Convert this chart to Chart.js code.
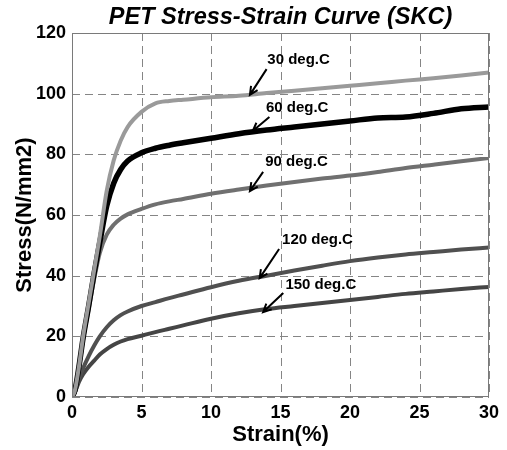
<!DOCTYPE html>
<html>
<head>
<meta charset="utf-8">
<script src="https://cdn.jsdelivr.net/npm/chart.js@4"></script>
<style>
  html, body { margin: 0; padding: 0; background: #fff; }
  #wrap { width: 507px; height: 450px; }
</style>
</head>
<body>
<div id="wrap"><canvas id="stressChart" width="507" height="450"></canvas></div>
<script>
// strain samples (%) shared by every curve
const strain = [0, 0.2, 0.5, 0.8, 1.2, 1.6, 2, 2.5, 3, 3.5, 4, 5, 6, 7, 8, 10, 12, 14, 16, 18, 20, 22, 24, 26, 28, 30];

// stress (N/mm2)
const stress30 = [0, 2, 10, 20, 31, 42, 53, 68, 78, 84.5, 89, 94, 96.8, 97.6, 98, 98.8, 99.3, 100.2, 101, 101.8, 102.6, 103.4, 104.3, 105.1, 106, 107];
const stress60 = [0, 2, 10, 19.5, 30, 41, 51, 63, 70.5, 75, 77.8, 80.5, 82, 83, 83.8, 85.3, 86.8, 88, 89, 90, 91, 92, 92.3, 93.5, 95, 95.6];
const stress90 = [0, 2, 9.5, 19, 29, 39, 47.5, 53.5, 56.8, 58.8, 60.2, 62, 63.5, 64.5, 65.3, 67, 68.4, 69.7, 70.9, 72, 73, 74.2, 75.5, 76.6, 77.7, 78.8];
const stress120 = [0, 1.5, 6, 9.5, 13.5, 17, 20, 23, 25.3, 27, 28.2, 30, 31.3, 32.6, 33.8, 36.2, 38.3, 40, 41.7, 43.3, 44.8, 46, 47, 47.8, 48.6, 49.3];
const stress150 = [0, 1.5, 5, 7.5, 10, 12, 14, 15.8, 17.2, 18.3, 19.1, 20.2, 21.4, 22.5, 23.6, 25.8, 27.6, 29, 30, 31, 32, 33, 34, 34.8, 35.6, 36.3];

const curveLabels = ["30 deg.C", "60 deg.C", "90 deg.C", "120 deg.C", "150 deg.C"];
const xTicks = [0, 5, 10, 15, 20, 25, 30];
const yTicks = [0, 20, 40, 60, 80, 100, 120];

// annotation anchors in data units: text centre, arrow tail, arrow head
const noteText = [[16.3, 111.1], [16.2, 95.3], [16.15, 77.5], [17.66, 51.8], [17.9, 36.9]];
const noteTail = [[14.0, 108.1], [14.2, 92.3], [13.75, 74.2], [14.9, 48.8], [15.2, 34.3]];
const noteHead = [[12.8, 99.6], [13.0, 87.7], [12.8, 67.9], [13.5, 39.2], [13.75, 28.0]];

const series = [stress30, stress60, stress90, stress120, stress150];
const colors = ["#9a9a9a", "#000000", "#707070", "#505050", "#454545"];
const widths = [4, 5.5, 4, 4, 4];

function toPoints(ys) {
  return strain.map((s, i) => ({ x: s, y: ys[i] }));
}

// dashed grid like the original, drawn under the curves
const gridPlugin = {
  id: "dashGrid",
  beforeDatasetsDraw(chart) {
    const { ctx, chartArea, scales } = chart;
    ctx.save();
    ctx.strokeStyle = "#858585";
    ctx.lineWidth = 1;
    ctx.setLineDash([8, 5]);
    xTicks.forEach((v) => {
      const px = Math.round(scales.x.getPixelForValue(v)) + 0.5;
      ctx.beginPath();
      ctx.moveTo(px, chartArea.top);
      ctx.lineTo(px, chartArea.bottom);
      ctx.stroke();
    });
    yTicks.forEach((v) => {
      const py = Math.round(scales.y.getPixelForValue(v)) + 0.5;
      ctx.beginPath();
      ctx.moveTo(chartArea.left, py);
      ctx.lineTo(chartArea.right, py);
      ctx.stroke();
    });
    ctx.restore();
  },
};

const notesPlugin = {
  id: "notes",
  afterDatasetsDraw(chart) {
    const { ctx, chartArea, scales } = chart;
    const x = scales.x, y = scales.y;

    // plot box
    ctx.save();
    ctx.strokeStyle = "#7a7a7a";
    ctx.lineWidth = 1;
    ctx.strokeRect(chartArea.left + 0.5, chartArea.top + 0.5,
      chartArea.right - chartArea.left - 1, chartArea.bottom - chartArea.top - 1);

    // labels and arrows
    ctx.fillStyle = "#000";
    ctx.strokeStyle = "#000";
    ctx.font = "bold 15px 'Liberation Sans', Arial, sans-serif";
    ctx.textAlign = "center";
    ctx.textBaseline = "middle";
    curveLabels.forEach((txt, i) => {
      ctx.fillText(txt, x.getPixelForValue(noteText[i][0]), y.getPixelForValue(noteText[i][1]));

      const x1 = x.getPixelForValue(noteTail[i][0]), y1 = y.getPixelForValue(noteTail[i][1]);
      const x2 = x.getPixelForValue(noteHead[i][0]), y2 = y.getPixelForValue(noteHead[i][1]);
      const ang = Math.atan2(y2 - y1, x2 - x1);
      ctx.lineWidth = 2;
      ctx.beginPath();
      ctx.moveTo(x1, y1);
      ctx.lineTo(x2, y2);
      ctx.moveTo(x2 - 9 * Math.cos(ang - 0.45), y2 - 9 * Math.sin(ang - 0.45));
      ctx.lineTo(x2, y2);
      ctx.lineTo(x2 - 9 * Math.cos(ang + 0.45), y2 - 9 * Math.sin(ang + 0.45));
      ctx.stroke();
    });
    ctx.restore();
  },
};

const ctx = document.getElementById("stressChart").getContext("2d");
let stressChart = new Chart(ctx, {
  type: "line",
  data: {
    datasets: series.map((ys, i) => ({
      label: curveLabels[i],
      data: toPoints(ys),
      borderColor: colors[i],
      borderWidth: widths[i],
      pointRadius: 0,
      fill: false,
      cubicInterpolationMode: "monotone",
    })),
  },
  options: {
    responsive: false,
    animation: false,
    layout: { padding: { left: 0, right: 18, top: 0, bottom: 0 } },
    plugins: {
      legend: { display: false },
      tooltip: { enabled: false },
      title: {
        display: true,
        fullSize: false,
        text: "PET Stress-Strain Curve (SKC)",
        color: "#000",
        font: { family: "'Liberation Sans', Arial, sans-serif", size: 23.5, weight: "bold", style: "italic" },
        padding: { top: 3.5, bottom: 1.3 },
      },
    },
    scales: {
      x: {
        type: "linear",
        min: 0,
        max: 30,
        afterBuildTicks: (scale) => { scale.ticks = xTicks.map((v) => ({ value: v })); },
        afterFit: (scale) => { scale.height = 53; },
        ticks: {
          color: "#000",
          padding: 5,
          maxRotation: 0,
          font: { family: "'Liberation Sans', Arial, sans-serif", size: 18, weight: "bold" },
        },
        grid: { display: false, drawTicks: false },
        border: { display: false },
        title: {
          display: true,
          text: "Strain(%)",
          color: "#000",
          font: { family: "'Liberation Sans', Arial, sans-serif", size: 22, weight: "bold" },
          padding: { top: 0, bottom: 2 },
        },
      },
      y: {
        type: "linear",
        min: 0,
        max: 120,
        afterBuildTicks: (scale) => { scale.ticks = yTicks.map((v) => ({ value: v })); },
        afterFit: (scale) => { scale.width = 72; },
        ticks: {
          color: "#000",
          padding: 6,
          font: { family: "'Liberation Sans', Arial, sans-serif", size: 18, weight: "bold" },
        },
        grid: { display: false, drawTicks: false },
        border: { display: false },
        title: {
          display: true,
          text: "Stress(N/mm2)",
          color: "#000",
          font: { family: "'Liberation Sans', Arial, sans-serif", size: 22, weight: "bold" },
          padding: { top: 12, bottom: 0 },
        },
      },
    },
  },
  plugins: [gridPlugin, notesPlugin],
});
</script>
</body>
</html>
